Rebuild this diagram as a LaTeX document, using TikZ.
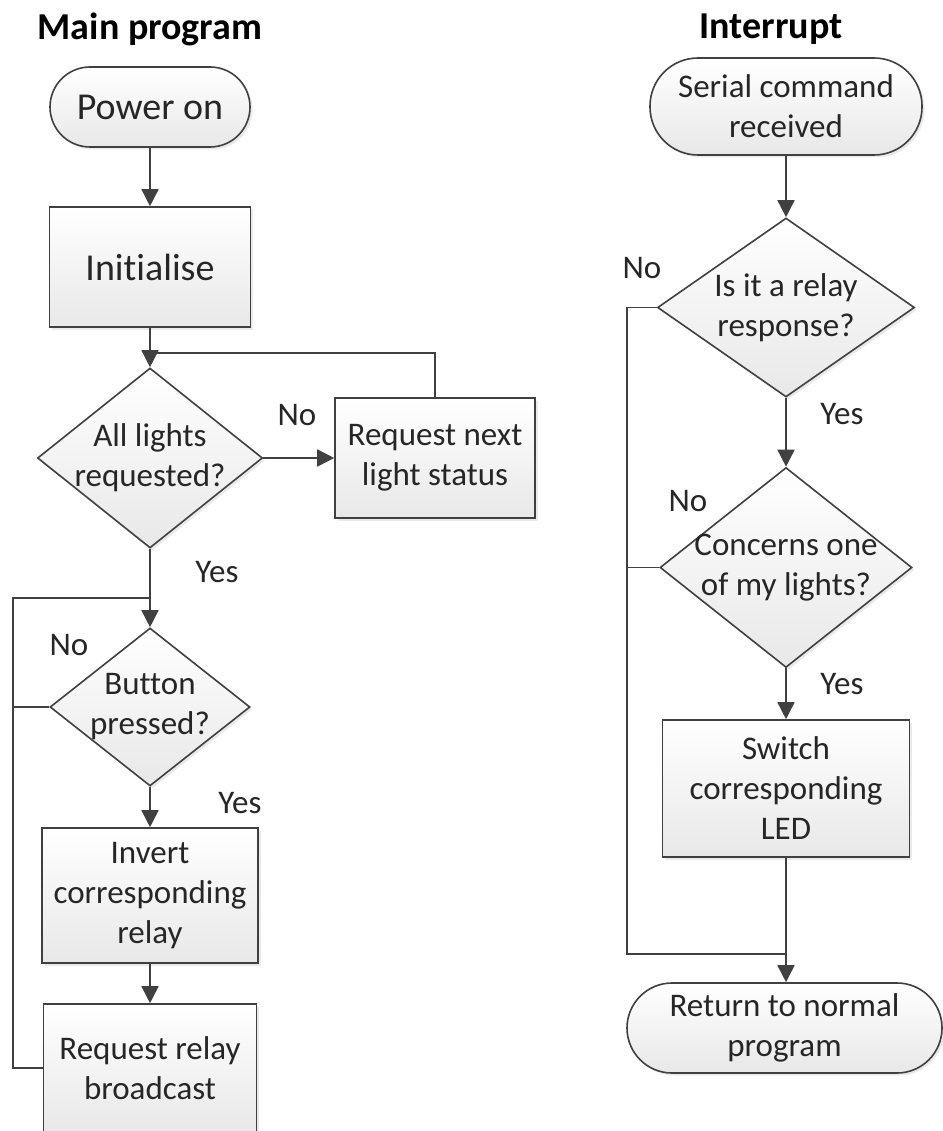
\documentclass[tikz,border=0pt]{standalone}
\usepackage{fontspec}
\setmainfont{Carlito}[Ligatures=NoCommon]
\usetikzlibrary{shapes.geometric,arrows.meta,shadows}

\definecolor{edge}{HTML}{404040}
\definecolor{ink}{HTML}{262626}

\newcommand{\bodyfont}{\fontsize{33}{40}\selectfont}
\newcommand{\bigfont}{\fontsize{38}{46}\selectfont}
\newcommand{\headfont}{\fontsize{38}{46}\selectfont\bfseries}

\tikzset{
  shape base/.style={draw=edge, line width=1.6pt, top color=white, bottom color=black!9,
    drop shadow={shadow xshift=2.5pt, shadow yshift=-2.5pt, opacity=0.16},
    text=ink, font=\bodyfont, align=center, inner sep=0pt},
  procbox/.style={shape base, rectangle},
  termbox/.style={shape base, rectangle},
  decision/.style={shape base, diamond, inner sep=-14pt},
  flow/.style={draw=edge, line width=1.6pt},
  arrowflow/.style={flow, -{Triangle[length=17pt,width=17pt]}},
  branchlbl/.style={text=ink, font=\bodyfont, inner sep=0pt},
  heading/.style={text=black, font=\headfont, inner sep=0pt}
}

\begin{document}
\begin{tikzpicture}[x=1pt,y=-1pt]
\useasboundingbox (0,0) rectangle (942,1131);
\fill[white] (0,0) rectangle (942,1131);

% ---------------- headings ----------------
\node[heading] (hmain) at (150,29) {Main program};
\node[heading] (hint)  at (771,29) {Interrupt};

% ---------------- main program ----------------
\node[termbox, minimum width=200pt, minimum height=80pt, rounded corners=40pt, font=\bigfont]
  (power) at (150,107) {Power on};
\node[procbox, minimum width=201pt, minimum height=120pt, font=\bigfont]
  (init) at (150,267) {Initialise};
\node[decision, minimum width=225pt, minimum height=180pt]
  (alllights) at (150,458) {All lights\\requested?};
\node[procbox, minimum width=200pt, minimum height=120pt]
  (reqnext) at (435,458) {Request next\\light status};
\node[decision, minimum width=200pt, minimum height=158pt]
  (button) at (150,707) {Button\\pressed?};
\node[procbox, minimum width=216pt, minimum height=135pt]
  (invert) at (150,895.5) {Invert\\corresponding\\relay};
\node[procbox, minimum width=213pt, minimum height=128pt]
  (bcast) at (150,1068) {Request relay\\broadcast};

\coordinate (loopA) at (150,353);
\coordinate (loopB) at (150,598);
\coordinate (leftrail) at (13,598);

\draw[arrowflow] (power) -- (init);
\draw[arrowflow] (init) -- (alllights);
\draw[arrowflow] (alllights) -- (reqnext);
\draw[flow] (reqnext.north) |- (loopA);
\draw[arrowflow] (alllights) -- (button);
\draw[arrowflow] (button) -- (invert);
\draw[arrowflow] (invert) -- (bcast);
\draw[flow] (bcast.west) -| (leftrail) -- (loopB);
\draw[flow] (button.west) -- (button.west -| leftrail);

\node[branchlbl] (no1)  at (297,415) {No};
\node[branchlbl] (yes1) at (217,572) {Yes};
\node[branchlbl] (no2)  at (69,645)  {No};
\node[branchlbl] (yes2) at (240,803) {Yes};

% ---------------- interrupt ----------------
\node[termbox, minimum width=272pt, minimum height=97pt, rounded corners=48pt]
  (serial) at (786,106.5) {Serial command\\received};
\node[decision, minimum width=257pt, minimum height=179pt]
  (relayresp) at (786,307.5) {Is it a relay\\response?};
\node[decision, minimum width=252pt, minimum height=200pt]
  (mine) at (786,567.5) {Concerns one\\of my lights?};
\node[procbox, minimum width=247pt, minimum height=137pt]
  (switchled) at (786,788.5) {Switch\\corresponding\\LED};
\node[termbox, minimum width=315pt, minimum height=90pt, rounded corners=45pt]
  (ret) at (784.5,1028) {Return to normal\\program};

\coordinate (rightrail) at (627,954);
\coordinate (mergeR) at (786,954);

\draw[arrowflow] (serial) -- (relayresp);
\draw[arrowflow] (relayresp) -- (mine);
\draw[arrowflow] (mine) -- (switchled);
\draw[arrowflow] (switchled.south) -- (switchled.south |- ret.north);
\draw[flow] (relayresp.west) -| (rightrail) -- (mergeR);
\draw[flow] (mine.west) -- (mine.west -| rightrail);

\node[branchlbl] (no3)  at (642,268) {No};
\node[branchlbl] (yes3) at (842,414) {Yes};
\node[branchlbl] (no4)  at (688,501) {No};
\node[branchlbl] (yes4) at (842,684) {Yes};
\end{tikzpicture}
\end{document}
